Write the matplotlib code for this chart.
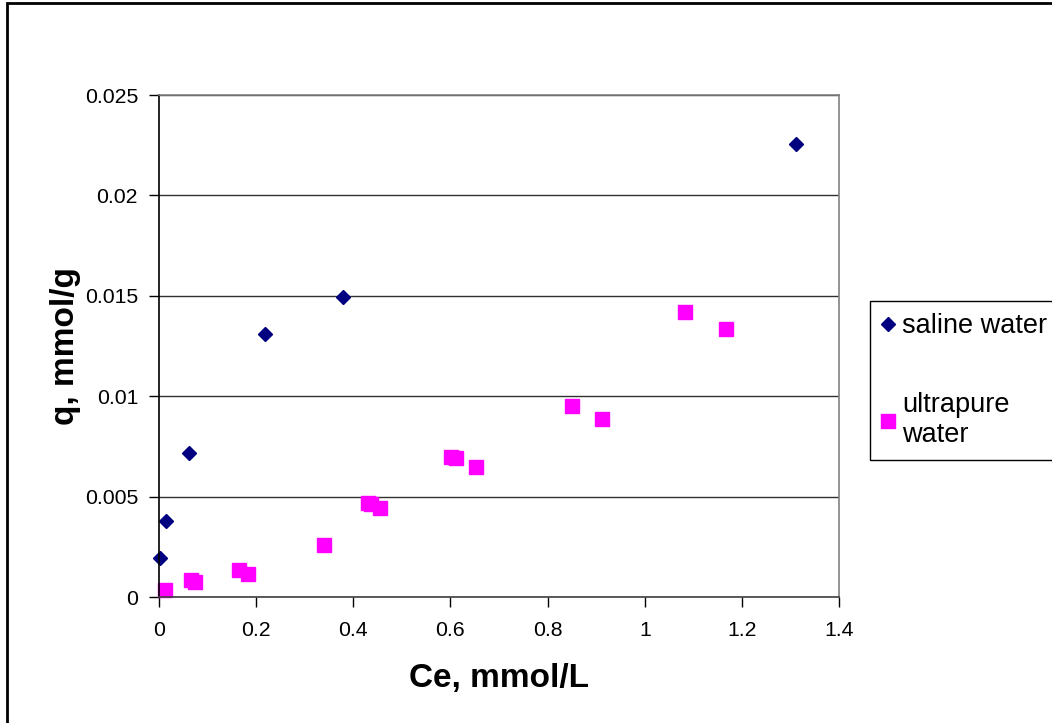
import matplotlib.pyplot as plt
from matplotlib.patches import Rectangle

plt.rcParams['font.family'] = ['Liberation Sans', 'DejaVu Sans']

# adsorption isotherm data, Ce (mmol/L) vs q (mmol/g)
saline_ce = [0.002, 0.014, 0.062, 0.218, 0.379, 1.311]
saline_q = [0.00197, 0.0038, 0.00717, 0.01309, 0.01496, 0.02257]

pure_ce = [0.012, 0.066, 0.074, 0.165, 0.184, 0.340, 0.430, 0.437, 0.455,
           0.601, 0.611, 0.652, 0.850, 0.912, 1.083, 1.167]
pure_q = [0.00036, 0.00085, 0.00075, 0.00136, 0.00116, 0.0026, 0.00468, 0.00466, 0.00446,
          0.0070, 0.00692, 0.0065, 0.00952, 0.00889, 0.0142, 0.01335]

x_ticks = [0, 0.2, 0.4, 0.6, 0.8, 1, 1.2, 1.4]
y_ticks = [0, 0.005, 0.01, 0.015, 0.02, 0.025]

fig = plt.figure(figsize=(10.52, 7.23), dpi=100)
ax = fig.add_axes([0.1511, 0.1739, 0.6465, 0.6947])

ax.plot(saline_ce, saline_q, linestyle='none', marker='D', ms=7.2,
        color='#000080', label='saline water', clip_on=False)
ax.plot(pure_ce, pure_q, linestyle='none', marker='s', ms=9.6,
        color='#FF00FF', label='ultrapure\nwater', clip_on=False)

ax.set_xlim(0, 1.4)
ax.set_ylim(0, 0.025)
ax.set_xticks(x_ticks)
ax.set_xticklabels(['0', '0.2', '0.4', '0.6', '0.8', '1', '1.2', '1.4'])
ax.set_yticks(y_ticks)
ax.set_yticklabels(['0', '0.005', '0.01', '0.015', '0.02', '0.025'])
ax.tick_params(axis='both', labelsize=15.3, direction='out', length=7, width=1, color='black')
ax.tick_params(axis='x', pad=10)
ax.tick_params(axis='y', pad=8)

ax.yaxis.grid(True, color='#303030', linewidth=1)
ax.set_axisbelow(True)
ax.spines['left'].set_color('black')
ax.spines['bottom'].set_color('#404040')
ax.spines['top'].set_color('#808080')
ax.spines['right'].set_color('#808080')
for s in ax.spines.values():
    s.set_linewidth(1.2)

ax.set_xlabel('Ce, mmol/L', fontsize=24, fontweight='bold', labelpad=17)
ax.set_ylabel('q, mmol/g', fontsize=24, fontweight='bold', labelpad=3)

leg = ax.legend(loc='upper left', bbox_to_anchor=(870 / 1052, 1 - 301 / 723),
                bbox_transform=fig.transFigure, fontsize=19.5, frameon=True,
                fancybox=False, edgecolor='black', framealpha=1,
                handlelength=0.4, handletextpad=0.35, borderpad=0.45,
                labelspacing=1.95, borderaxespad=0)
leg.get_frame().set_linewidth(1)

# outer chart border
fig.patches.append(Rectangle((6.5 / 1052, -0.1), 1.2, 1.1 - 3.5 / 723,
                             transform=fig.transFigure, fill=False,
                             edgecolor='black', linewidth=2))

fig.savefig('out.png', dpi=100)
